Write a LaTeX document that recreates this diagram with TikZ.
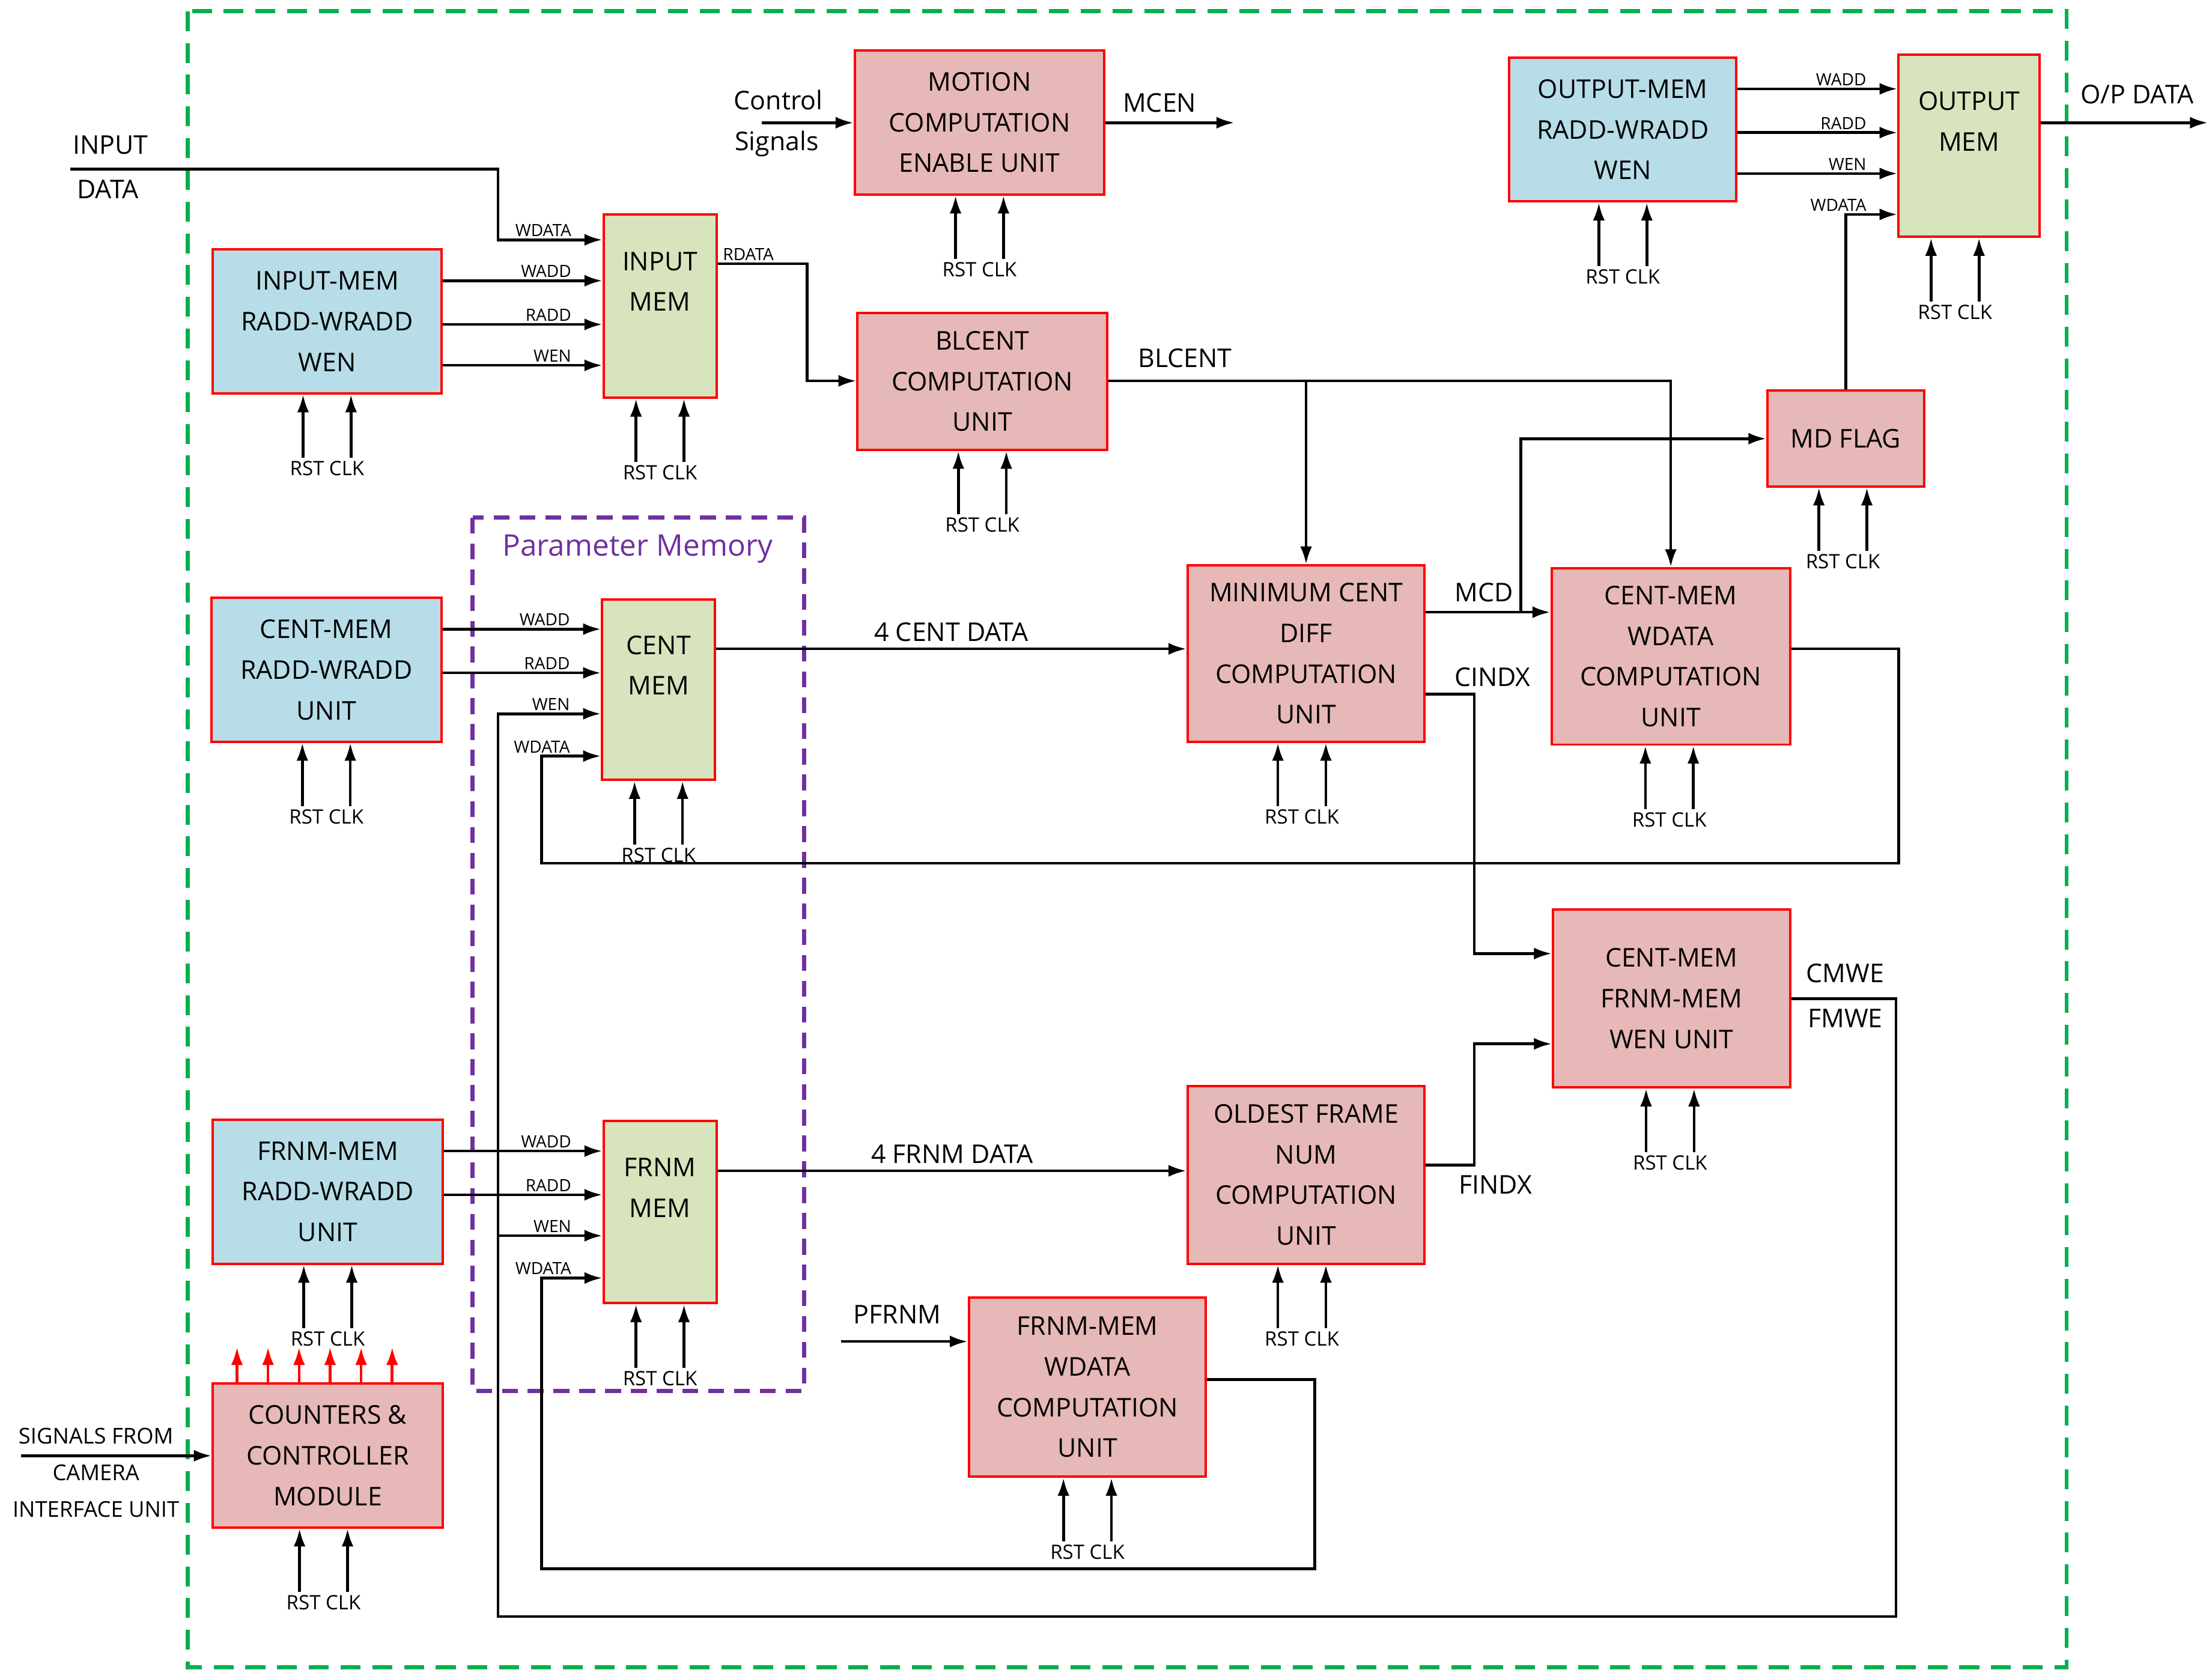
\documentclass[tikz,border=0pt]{standalone}
\usepackage{fontspec}
\setmainfont{Open Sans}
\usetikzlibrary{arrows.meta,calc}
\definecolor{bblue}{RGB}{183,221,232}
\definecolor{bgreen}{RGB}{215,228,189}
\definecolor{bred}{RGB}{230,184,183}
\definecolor{gdash}{RGB}{0,176,80}
\definecolor{pdash}{RGB}{112,48,160}
\begin{document}
\begin{tikzpicture}[x=0.025cm,y=-0.025cm,
  box/.style={draw=red,line width=1.2pt,inner sep=0pt,align=center,font=\fontsize{13}{20.5}\selectfont,anchor=north west},
  blu/.style={box,fill=bblue},
  grn/.style={box,fill=bgreen},
  rd/.style={box,fill=bred},
  ln/.style={line width=1.4pt},
  ar/.style={ln,-{Latex[length=9pt,width=6pt]}},
  sl/.style={font=\fontsize{8.5}{9}\selectfont,inner sep=1pt,anchor=south east},
  ml/.style={font=\fontsize{13}{16}\selectfont,inner sep=1pt},
  rc/.style={font=\fontsize{10}{11}\selectfont,inner sep=0pt}]
\useasboundingbox (0,0) rectangle (1568,1188);
\draw[gdash,line width=2pt,dash pattern=on 10pt off 6pt] (133,8) rectangle (1465,1182);
\draw[pdash,line width=2pt,dash pattern=on 8pt off 5pt] (335,367) rectangle (570,986);
\node[text=pdash,font=\fontsize{15}{16}\selectfont] (pm) at (452,389) {Parameter Memory};
% boxes
\newcommand{\bx}[6]{\node[#1,minimum width={(#4-#2)*0.025cm},minimum height={(#5-#3)*0.025cm}] (#6) at (#2,#3) {};}
\bx{blu}{150}{176}{312}{278}{im}
\bx{grn}{427}{151}{507}{281}{imem}
\bx{rd}{605}{35}{782}{137}{mce}
\bx{rd}{607}{221}{784}{318}{blc}
\bx{blu}{1069}{40}{1230}{142}{om}
\bx{grn}{1345}{38}{1445}{167}{omem}
\bx{rd}{1252}{276}{1363}{344}{mdf}
\bx{blu}{149}{423}{312}{525}{cm}
\bx{grn}{426}{424}{506}{552}{cmem}
\bx{rd}{841}{400}{1009}{525}{mcd}
\bx{rd}{1099}{402}{1268}{527}{cwd}
\bx{rd}{1100}{644}{1268}{770}{wen}
\bx{blu}{150}{793}{313}{895}{fm}
\bx{grn}{427}{794}{507}{923}{fmem}
\bx{rd}{841}{769}{1009}{895}{ofn}
\bx{rd}{686}{919}{854}{1046}{fwd}
\bx{rd}{150}{980}{313}{1082}{ctr}
\newcommand{\bt}[2]{\node[align=center,font=\fontsize{13}{20.5}\selectfont] at (#1.center) {#2};}
\bt{im}{INPUT-MEM\\RADD-WRADD\\WEN}
\bt{imem}{INPUT\\MEM\\[4pt]}
\bt{mce}{MOTION\\COMPUTATION\\ENABLE UNIT}
\bt{blc}{BLCENT\\COMPUTATION\\UNIT}
\bt{om}{OUTPUT-MEM\\RADD-WRADD\\WEN}
\bt{omem}{OUTPUT\\MEM\\[4pt]}
\bt{mdf}{MD FLAG}
\bt{cm}{CENT-MEM\\RADD-WRADD\\UNIT}
\bt{cmem}{CENT\\MEM\\[4pt]}
\bt{mcd}{MINIMUM CENT\\DIFF\\COMPUTATION\\UNIT}
\bt{cwd}{CENT-MEM\\WDATA\\COMPUTATION\\UNIT}
\bt{wen}{CENT-MEM\\FRNM-MEM\\WEN UNIT}
\bt{fm}{FRNM-MEM\\RADD-WRADD\\UNIT}
\bt{fmem}{FRNM\\MEM\\[4pt]}
\bt{ofn}{OLDEST FRAME\\NUM\\COMPUTATION\\UNIT}
\bt{fwd}{FRNM-MEM\\WDATA\\COMPUTATION\\UNIT}
\bt{ctr}{COUNTERS \&\\CONTROLLER\\MODULE}
% RST CLK
\newcommand{\rck}[2]{%
 \coordinate (#1a) at ($(#1.south)+(-17+#2,45)$);
 \coordinate (#1b) at ($(#1.south)+(17+#2,45)$);
 \draw[ar] (#1a) -- (#1a|-#1.south);
 \draw[ar] (#1b) -- (#1b|-#1.south);
 \node[rc,anchor=north] (#1rc) at ($(#1.south)+(#2,47)$) {RST CLK};}
\rck{im}{0}\rck{imem}{0}\rck{mce}{0}\rck{blc}{0}\rck{om}{0}\rck{omem}{-10}\rck{mdf}{-2}
\rck{cm}{0}\rck{cmem}{0}\rck{mcd}{-3}\rck{cwd}{-1}\rck{wen}{-1}\rck{fm}{0}\rck{fmem}{0}
\rck{ofn}{-3}\rck{fwd}{0}\rck{ctr}{-3}
% address buses
\newcommand{\bus}[5]{\draw[ar] (#1.east|-0,#3) -- (#2.west|-0,#3) node[sl,pos=1,xshift=-14] {#4};}
\bus{im}{imem}{199}{WADD}{}\bus{im}{imem}{230}{RADD}{}\bus{im}{imem}{259}{WEN}{}
\bus{om}{omem}{63}{WADD}{}\bus{om}{omem}{94}{RADD}{}\bus{om}{omem}{123}{WEN}{}
\bus{cm}{cmem}{446}{WADD}{}\bus{cm}{cmem}{477}{RADD}{}
\bus{fm}{fmem}{816}{WADD}{}\bus{fm}{fmem}{847}{RADD}{}
% input data
\coordinate (ind) at (50,120);
\node[ml,anchor=west] (indt) at (50,103) {INPUT};
\node[ml,anchor=west] (indt2) at (53,134) {DATA};
\draw[ar] (ind) -- (353,120) -- (353,170) -- (imem.west|-0,170) node[sl,pos=1,xshift=-14] {WDATA};
% rdata
\draw[ar] (imem.east|-0,187) node[sl,anchor=south west,xshift=1] {RDATA} -- (572,187) -- (572,270) -- (blc.west|-0,270);
% control
\coordinate (cs) at (540,87);
\node[ml,anchor=east] (cst) at (585,71) {Control};
\node[ml,anchor=east] (cst2) at (582,102) {Signals};
\draw[ar] (cs) -- (mce.west|-cs);
\coordinate (mcen) at (875,87);
\draw[ar] (mce.east|-mcen) -- (mcen);
\node[ml] (mcent) at (822,73) {MCEN};
% op data
\coordinate (opd) at (1565,87);
\draw[ar] (omem.east|-opd) -- (opd);
\node[ml] (opdt) at (1515,67) {O/P DATA};
\draw[ar] (mdf.north) -- (mdf.north|-0,152) -- (omem.west|-0,152) node[sl,pos=1,xshift=-14] {WDATA};
% blcent
\draw[ar] (blc.east|-0,270) -- (cwd.north|-0,270) -- (cwd.north);
\draw[ar] (mcd.north|-0,270) -- (mcd.north);
\node[ml] (blct) at (840,254) {BLCENT};
% cent data
\draw[ar] (cmem.east|-0,460) -- (mcd.west|-0,460) node[ml,midway,above=2pt] {4 CENT DATA};
\draw[ar] (mcd.east|-0,434) -- (cwd.west|-0,434);
\node[ml] (mcdt) at (1052,420) {MCD};
\draw[ar] (1078,434) -- (1078,311) -- (mdf.west|-0,311);
\draw[ar] (mcd.east|-0,492) -- (1045,492) -- (1045,676) -- (wen.west|-0,676);
\node[ml] (cit) at (1058,480) {CINDX};
\draw[ar] (cwd.east|-0,460) -- (1346,460) -- (1346,612) -- (384,612) -- (384,536) -- (cmem.west|-0,536) node[sl,pos=1,xshift=-14] {WDATA};
% frnm data
\draw[ar] (fmem.east|-0,830) -- (ofn.west|-0,830) node[ml,midway,above=2pt] {4 FRNM DATA};
\draw[ar] (ofn.east|-0,826) -- (1045,826) -- (1045,740) -- (wen.west|-0,740);
\node[ml] (fit) at (1060,840) {FINDX};
\coordinate (pf) at (596,951);
\draw[ar] (pf) -- (fwd.west|-pf);
\node[ml] (pft) at (636,932) {PFRNM};
\draw[ar] (fwd.east|-0,978) -- (932,978) -- (932,1112) -- (384,1112) -- (384,906) -- (fmem.west|-0,906) node[sl,pos=1,xshift=-14] {WDATA};
% wen
\draw[ar] (wen.east|-0,708) -- (1344,708) -- (1344,1146) -- (353,1146) -- (353,506) -- (cmem.west|-0,506) node[sl,pos=1,xshift=-14] {WEN};
\draw[ar] (353,876) -- (fmem.west|-0,876) node[sl,pos=1,xshift=-14] {WEN};
\node[ml] (cmt) at (1308,690) {CMWE};
\node[ml] (fmt) at (1308,722) {FMWE};
% camera
\coordinate (cam) at (15,1032);
\draw[ar] (cam) -- (ctr.west|-cam);
\node[align=center,font=\fontsize{11}{18.5}\selectfont] (camt) at (68,1044) {SIGNALS FROM\\CAMERA\\INTERFACE UNIT};
\foreach \x in {168,190,212,234,256,278}
  \draw[ar,red] (\x,980) -- (\x,955);
\end{tikzpicture}
\end{document}
